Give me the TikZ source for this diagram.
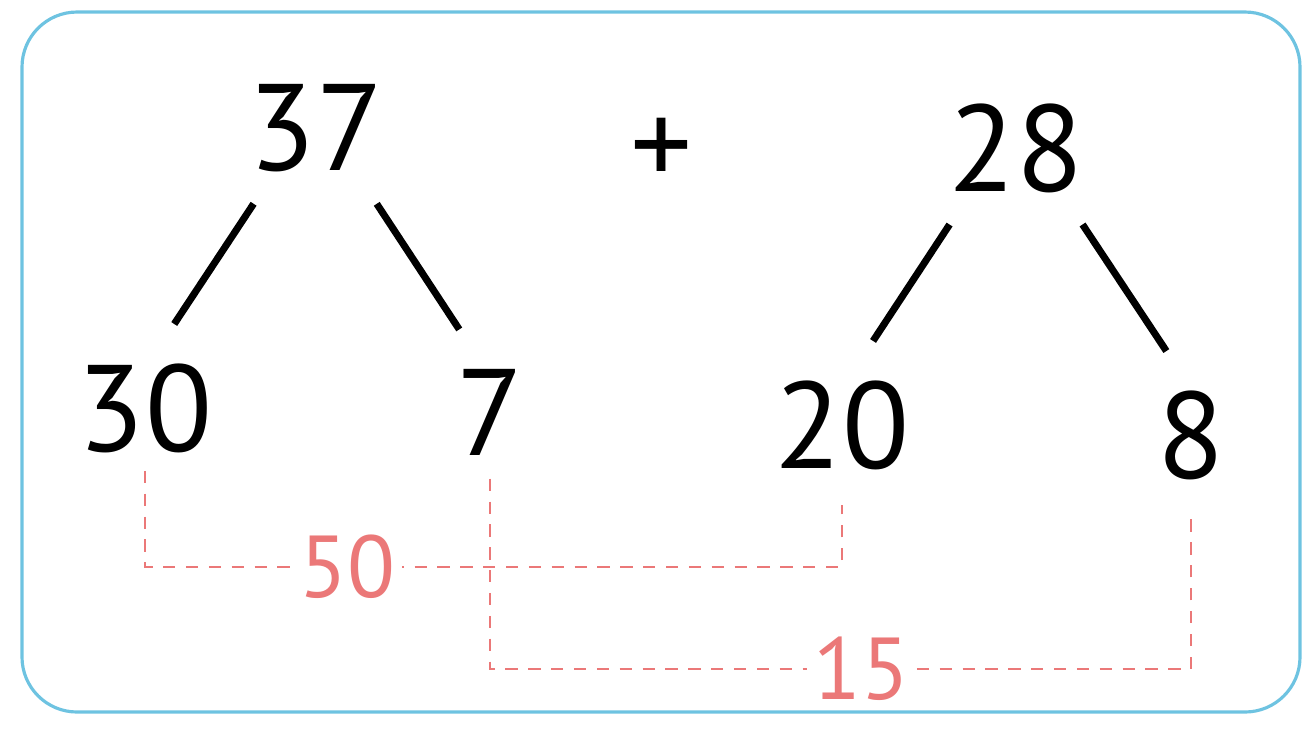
\documentclass[tikz,border=0pt]{standalone}
\usepackage{fontspec}
\setmainfont{PT Sans}
\usepackage{tikz}
\usetikzlibrary{positioning,calc}
\definecolor{frameblue}{RGB}{110,195,225}
\definecolor{sumred}{RGB}{235,120,120}

\begin{document}
\begin{tikzpicture}[x=0.01cm, y=-0.01cm,
  num/.style={font=\fontsize{35}{35}\selectfont, inner sep=2pt},
  sumnum/.style={font=\fontsize{25}{25}\selectfont, text=sumred, fill=white, inner sep=2pt},
  branch/.style={line width=2pt, shorten <=0.29cm, shorten >=0.38cm},
  sumline/.style={sumred, line width=0.6pt, dash pattern=on 3.5pt off 3pt}
]
\useasboundingbox (0,0) rectangle (1309,744);
\draw[frameblue, line width=0.9pt, rounded corners=0.55cm] (22,12) rectangle (1300,712);

% top numbers
\node[num] (n37) at (316,128) {37};
\node[num] (plus) at (662,152) {+};
\node[num] (n28) at (1016,148) {28};

% split parts
\node[num] (n30) at (145,408) {30};
\node[num] (n7) at (490,412) {7};
\node[num] (n20) at (842,425) {20};
\node[num] (n8) at (1191,435) {8};

\draw[branch] (n37.228) -- (n30.81);
\draw[branch] (n37.311) -- (n7.101);
\draw[branch] (n28.226) -- (n20.79);
\draw[branch] (n28.314) -- (n8.94);

% tens and ones
\coordinate (y50) at (0,567);
\coordinate (y15) at (0,669);
\draw[sumline, shorten <=3pt, shorten >=8pt] (n30.south) -- (n30.south |- y50)
  -- node[sumnum, pos=0.29] (s50) {50} (n20.south |- y50) -- (n20.south);
\draw[sumline, shorten <=4.5pt, shorten >=6.5pt] (n7.south) -- (n7.south |- y15)
  -- node[sumnum, pos=0.53] (s15) {15} (n8.south |- y15) -- (n8.south);
\end{tikzpicture}
\end{document}
